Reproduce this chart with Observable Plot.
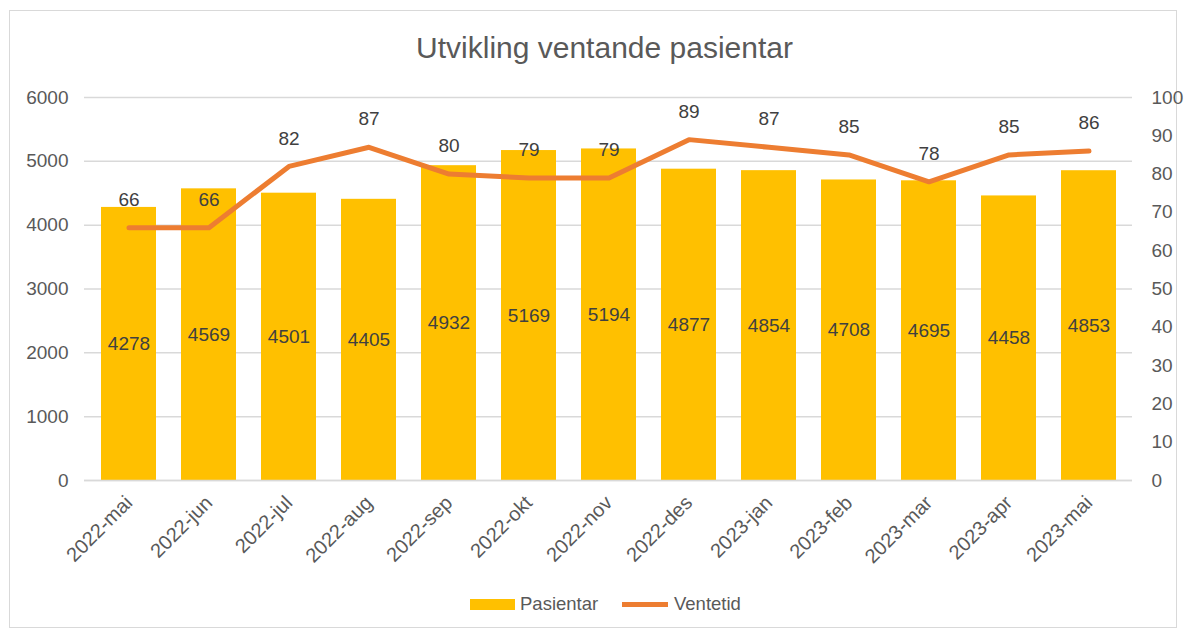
<!DOCTYPE html>
<html>
<head>
<meta charset="utf-8">
<script src="https://cdn.jsdelivr.net/npm/d3@7"></script>
<script src="https://cdn.jsdelivr.net/npm/@observablehq/plot@0.6"></script>
<style>
  body { margin: 0; background: #fff; font-family: "Liberation Sans", Arial, sans-serif; }
  #wrap { position: relative; width: 1186px; height: 635px; overflow: hidden; }
  #frame { position: absolute; left: 9px; top: 10px; width: 1168px; height: 618px; border: 1px solid #d9d9d9; box-sizing: border-box; }
  #title { position: absolute; left: 82px; width: 1045px; top: 31px; text-align: center; font-size: 30px; color: #595959; }
  #chart { position: absolute; left: 0; top: 70px; }
  #legend { position: absolute; top: 593px; left: 0; width: 1186px; font-size: 18.5px; color: #595959; }
  .sw { position: absolute; }
</style>
</head>
<body>
<div id="wrap">
  <div id="frame"></div>
  <div id="title">Utvikling ventande pasientar</div>
  <div id="chart"></div>
  <div id="legend">
    <div class="sw" style="left:470px; top:6px; width:45px; height:11px; background:#FFC000;"></div>
    <div class="sw" style="left:520px; top:0px;">Pasientar</div>
    <div class="sw" style="left:622px; top:9px; width:46px; height:5px; background:#ED7D31;"></div>
    <div class="sw" style="left:674px; top:0px;">Ventetid</div>
  </div>
</div>
<script>
const months = ["2022-mai","2022-jun","2022-jul","2022-aug","2022-sep","2022-okt","2022-nov","2022-des","2023-jan","2023-feb","2023-mar","2023-apr","2023-mai"];
const pasientar = [4278,4569,4501,4405,4932,5169,5194,4877,4854,4708,4695,4458,4853];
const ventetid = [66,66,82,87,80,79,79,89,87,85,78,85,86];
const leftTicks = [0,1000,2000,3000,4000,5000,6000];
const rightTicks = [0,10,20,30,40,50,60,70,80,90,100];

const ratio = 6000 / 100;
const data = months.map((m, i) => ({month: m, p: pasientar[i], v: ventetid[i]}));

const plot = Plot.plot({
  width: 1186,
  height: 520,
  marginTop: 27,
  marginBottom: 110,
  marginLeft: 84,
  marginRight: 54,
  style: {fontFamily: "'Liberation Sans', Arial, sans-serif", fontSize: "19px", color: "#595959", background: "transparent"},
  x: {domain: months, paddingInner: 0.316, paddingOuter: 0.158, label: null},
  y: {domain: [0, 6000], label: null},
  marks: [
    Plot.gridY(leftTicks, {stroke: "#d9d9d9", strokeOpacity: 1, strokeWidth: 1.5}),
    Plot.barY(data, {x: "month", y: "p", fill: "#FFC000"}),
    Plot.ruleY([0], {stroke: "#d9d9d9", strokeWidth: 1.5}),
    Plot.line(data, {x: "month", y: d => d.v * ratio, stroke: "#ED7D31", strokeWidth: 5, strokeLinecap: "round", strokeLinejoin: "round"}),
    Plot.text(data, {x: "month", y: d => d.p / 2, text: d => String(d.p), fill: "#404040", fontSize: 19}),
    Plot.text(data, {x: "month", y: d => d.v * ratio, text: d => String(d.v), fill: "#404040", fontSize: 19, dy: -28}),
    Plot.axisY(leftTicks, {anchor: "left", tickSize: 0, tickPadding: 16, label: null, tickFormat: d => String(d), fill: "#595959"}),
    Plot.axisY(rightTicks.map(t => t * ratio), {anchor: "right", tickSize: 0, tickPadding: 19, label: null, tickFormat: d => String(Math.round(d / ratio)), fill: "#595959"}),
    Plot.axisX({tickSize: 0, tickPadding: 19, tickRotate: -45, fontSize: 20, label: null, fill: "#595959"})
  ]
});
document.getElementById("chart").appendChild(plot);
</script>
</body>
</html>
